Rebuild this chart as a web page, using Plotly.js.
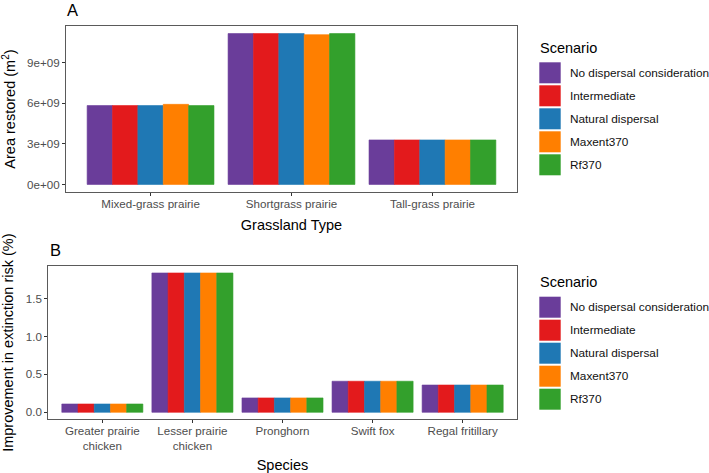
<!DOCTYPE html>
<html>
<head>
<meta charset="utf-8">
<script src="https://cdn.plot.ly/plotly-3.0.1.min.js"></script>
<style>html,body{margin:0;padding:0;background:#fff}</style>
</head>
<body>
<div id="chart" style="width:709px;height:473px"></div>
<script>
// Scenarios shared by both panels
const scenarios = ['No dispersal consideration', 'Intermediate', 'Natural dispersal', 'Maxent370', 'Rf370'];
const scenarioColors = ['#6A3D9A', '#E31A1C', '#1F78B4', '#FF7F00', '#33A02C'];

// Panel A: area restored (m²) by grassland type
const grasslandTypes = ['Mixed-grass prairie', 'Shortgrass prairie', 'Tall-grass prairie'];
const areaNoDispersal  = [5.83e9, 11.15e9, 3.29e9];
const areaIntermediate = [5.83e9, 11.15e9, 3.29e9];
const areaNatural      = [5.83e9, 11.15e9, 3.29e9];
const areaMaxent370    = [5.92e9, 11.07e9, 3.29e9];
const areaRf370        = [5.83e9, 11.15e9, 3.29e9];
const areaTickVals   = [0, 3e9, 6e9, 9e9];
const areaTickLabels = ['0e+00', '3e+09', '6e+09', '9e+09'];

// Panel B: improvement in extinction risk (%) by species
const species = ['Greater prairie<br>chicken', 'Lesser prairie<br>chicken', 'Pronghorn', 'Swift fox', 'Regal fritillary'];
const riskNoDispersal  = [0.11, 1.837, 0.19, 0.41, 0.36];
const riskIntermediate = [0.11, 1.837, 0.19, 0.41, 0.36];
const riskNatural      = [0.11, 1.837, 0.19, 0.41, 0.36];
const riskMaxent370    = [0.11, 1.837, 0.19, 0.41, 0.36];
const riskRf370        = [0.11, 1.837, 0.19, 0.41, 0.36];
const riskTickVals = [0, 0.5, 1.0, 1.5];

const areaSeries = [areaNoDispersal, areaIntermediate, areaNatural, areaMaxent370, areaRf370];
const riskSeries = [riskNoDispersal, riskIntermediate, riskNatural, riskMaxent370, riskRf370];

// Page is laid out in pixels; convert to paper fractions
const W = 709, H = 473;
const px = x => x / W;
const py = y => 1 - y / H;

const FONT = 'Liberation Sans, Arial, Helvetica, sans-serif';
const TICK_FONT = {family: FONT, size: 11.6, color: '#4d4d4d'};
const TITLE_FONT = {family: FONT, size: 14.5, color: '#000'};

// ggplot-style padding of 5% around the data range
function padded(series) {
  const all = series.flat();
  const lo = Math.min(0, ...all), hi = Math.max(...all);
  const pad = (hi - lo) * 0.05;
  return [lo - pad, hi + pad];
}

const traces = [];
scenarios.forEach((name, i) => {
  const marker = {color: scenarioColors[i], line: {color: scenarioColors[i], width: 0.6}};
  traces.push({
    type: 'bar', name: name, x: grasslandTypes, y: areaSeries[i],
    xaxis: 'x', yaxis: 'y', marker: marker, showlegend: false
  });
  traces.push({
    type: 'bar', name: name, x: species, y: riskSeries[i],
    xaxis: 'x2', yaxis: 'y2', marker: marker, showlegend: false
  });
});

const axisCommon = {
  showline: true, mirror: true, linecolor: '#5a5a5a', linewidth: 1,
  ticks: 'outside', ticklen: 3, tickwidth: 1, tickcolor: '#333',
  showgrid: false, zeroline: false, tickfont: TICK_FONT, fixedrange: true
};

// Legend blocks drawn beside each panel
const shapes = [];
const annotations = [];
function addLegend(titleY, keyTop) {
  annotations.push({
    xref: 'paper', yref: 'paper', x: px(538), y: py(titleY),
    xanchor: 'left', yanchor: 'middle', showarrow: false,
    text: 'Scenario', font: TITLE_FONT
  });
  scenarios.forEach((name, i) => {
    const top = keyTop + i * 23;
    shapes.push({
      type: 'rect', xref: 'paper', yref: 'paper',
      x0: px(539.3), x1: px(560.7), y0: py(top + 21), y1: py(top),
      fillcolor: scenarioColors[i], line: {width: 0}
    });
    annotations.push({
      xref: 'paper', yref: 'paper', x: px(567.5), y: py(top + 10.5),
      xanchor: 'left', yanchor: 'middle', showarrow: false,
      text: name, font: {family: FONT, size: 11.8, color: '#111'}
    });
  });
}
addLegend(48, 62.3);
addLegend(282.3, 296.7);

// Panel tags
annotations.push({xref: 'paper', yref: 'paper', x: px(65), y: py(10), xanchor: 'left', yanchor: 'middle',
  showarrow: false, text: 'A', font: {family: FONT, size: 16.5, color: '#000'}});
annotations.push({xref: 'paper', yref: 'paper', x: px(48), y: py(249.5), xanchor: 'left', yanchor: 'middle',
  showarrow: false, text: 'B', font: {family: FONT, size: 16.5, color: '#000'}});

const layout = {
  width: W, height: H,
  margin: {l: 0, r: 0, t: 0, b: 0},
  paper_bgcolor: '#fff', plot_bgcolor: '#fff',
  barmode: 'group', bargap: 0.1, bargroupgap: 0,
  showlegend: false,
  font: {family: FONT},
  xaxis: Object.assign({}, axisCommon, {
    domain: [px(66), px(517)], anchor: 'y',
    range: [-0.6, grasslandTypes.length - 0.4],
    ticklabelstandoff: -2,
    title: {text: 'Grassland Type', font: TITLE_FONT, standoff: 10}
  }),
  yaxis: Object.assign({}, axisCommon, {
    domain: [py(192), py(26)], anchor: 'x',
    range: padded(areaSeries),
    tickmode: 'array', tickvals: areaTickVals, ticktext: areaTickLabels,
    title: {text: 'Area restored (m<sup>2</sup>)', font: TITLE_FONT, standoff: 8}
  }),
  xaxis2: Object.assign({}, axisCommon, {
    domain: [px(48.3), px(516.7)], anchor: 'y2',
    range: [-0.6, species.length - 0.4],
    ticklabelstandoff: -2,
    title: {text: 'Species', font: TITLE_FONT, standoff: 8}
  }),
  yaxis2: Object.assign({}, axisCommon, {
    domain: [py(419.3), py(266)], anchor: 'x2',
    range: padded(riskSeries),
    tickmode: 'array', tickvals: riskTickVals, tickformat: '.1f',
    title: {text: 'Improvement in extinction risk (%)', font: TITLE_FONT, standoff: 9}
  }),
  shapes: shapes,
  annotations: annotations
};

Plotly.newPlot('chart', traces, layout, {displayModeBar: false, staticPlot: true});
</script>
</body>
</html>
